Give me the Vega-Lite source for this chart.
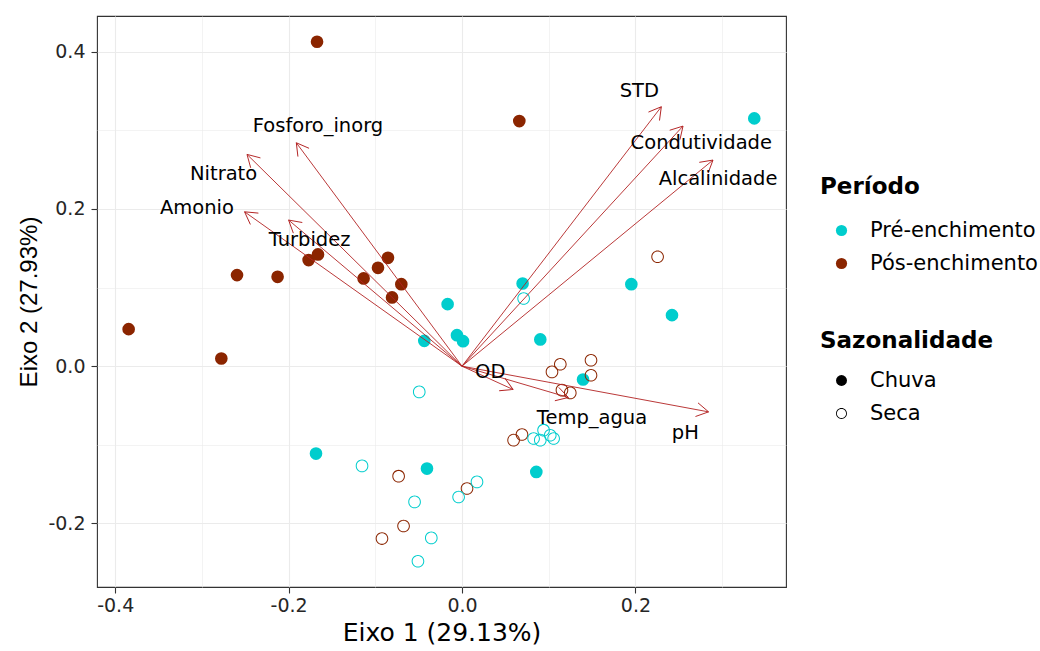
{
  "$schema": "https://vega.github.io/schema/vega-lite/v6.json",
  "width": 689,
  "height": 571,
  "autosize": {"type": "none"},
  "padding": {"left": 97, "top": 16, "right": 254, "bottom": 64},
  "background": "white",
  "config": {
    "view": {"stroke": "#333333", "strokeWidth": 1.1},
    "font": "DejaVu Sans",
    "axis": {
      "domain": false,
      "gridColor": "#EBEBEB",
      "tickColor": "#333333",
      "tickSize": 6,
      "tickWidth": 1.1,
      "labelFont": "DejaVu Sans",
      "labelFontSize": 19,
      "labelColor": "#262626",
      "labelFlush": false,
      "labelOverlap": false,
      "titleFont": "DejaVu Sans",
      "titleFontSize": 25,
      "titleFontWeight": "normal",
      "titleColor": "black"
    }
  },
  "datasets": {
    "pts": [
      {"x": -0.1672, "y": 0.4126, "Periodo": "Pós-enchimento", "Sazonalidade": "Chuva"},
      {"x": 0.0661, "y": 0.3117, "Periodo": "Pós-enchimento", "Sazonalidade": "Chuva"},
      {"x": -0.3845, "y": 0.0471, "Periodo": "Pós-enchimento", "Sazonalidade": "Chuva"},
      {"x": -0.2776, "y": 0.0098, "Periodo": "Pós-enchimento", "Sazonalidade": "Chuva"},
      {"x": -0.2595, "y": 0.1158, "Periodo": "Pós-enchimento", "Sazonalidade": "Chuva"},
      {"x": -0.2127, "y": 0.1136, "Periodo": "Pós-enchimento", "Sazonalidade": "Chuva"},
      {"x": -0.1769, "y": 0.1349, "Periodo": "Pós-enchimento", "Sazonalidade": "Chuva"},
      {"x": -0.1661, "y": 0.1421, "Periodo": "Pós-enchimento", "Sazonalidade": "Chuva"},
      {"x": -0.1135, "y": 0.1116, "Periodo": "Pós-enchimento", "Sazonalidade": "Chuva"},
      {"x": -0.0969, "y": 0.1251, "Periodo": "Pós-enchimento", "Sazonalidade": "Chuva"},
      {"x": -0.0854, "y": 0.1378, "Periodo": "Pós-enchimento", "Sazonalidade": "Chuva"},
      {"x": -0.0700, "y": 0.1043, "Periodo": "Pós-enchimento", "Sazonalidade": "Chuva"},
      {"x": -0.0807, "y": 0.0874, "Periodo": "Pós-enchimento", "Sazonalidade": "Chuva"},
      {"x": 0.3371, "y": 0.3151, "Periodo": "Pré-enchimento", "Sazonalidade": "Chuva"},
      {"x": 0.1953, "y": 0.1043, "Periodo": "Pré-enchimento", "Sazonalidade": "Chuva"},
      {"x": 0.0699, "y": 0.1052, "Periodo": "Pré-enchimento", "Sazonalidade": "Chuva"},
      {"x": 0.2422, "y": 0.0649, "Periodo": "Pré-enchimento", "Sazonalidade": "Chuva"},
      {"x": -0.0166, "y": 0.0789, "Periodo": "Pré-enchimento", "Sazonalidade": "Chuva"},
      {"x": -0.0058, "y": 0.0394, "Periodo": "Pré-enchimento", "Sazonalidade": "Chuva"},
      {"x": 0.0012, "y": 0.0318, "Periodo": "Pré-enchimento", "Sazonalidade": "Chuva"},
      {"x": -0.0435, "y": 0.0322, "Periodo": "Pré-enchimento", "Sazonalidade": "Chuva"},
      {"x": 0.0903, "y": 0.0340, "Periodo": "Pré-enchimento", "Sazonalidade": "Chuva"},
      {"x": 0.1396, "y": -0.0169, "Periodo": "Pré-enchimento", "Sazonalidade": "Chuva"},
      {"x": -0.1684, "y": -0.1111, "Periodo": "Pré-enchimento", "Sazonalidade": "Chuva"},
      {"x": -0.0404, "y": -0.1302, "Periodo": "Pré-enchimento", "Sazonalidade": "Chuva"},
      {"x": 0.0857, "y": -0.1345, "Periodo": "Pré-enchimento", "Sazonalidade": "Chuva"},
      {"x": 0.2256, "y": 0.1391, "Periodo": "Pós-enchimento", "Sazonalidade": "Seca"},
      {"x": 0.1038, "y": -0.0073, "Periodo": "Pós-enchimento", "Sazonalidade": "Seca"},
      {"x": 0.1134, "y": 0.0025, "Periodo": "Pós-enchimento", "Sazonalidade": "Seca"},
      {"x": 0.1488, "y": 0.0076, "Periodo": "Pós-enchimento", "Sazonalidade": "Seca"},
      {"x": 0.1488, "y": -0.0115, "Periodo": "Pós-enchimento", "Sazonalidade": "Seca"},
      {"x": 0.1153, "y": -0.0305, "Periodo": "Pós-enchimento", "Sazonalidade": "Seca"},
      {"x": 0.1249, "y": -0.0340, "Periodo": "Pós-enchimento", "Sazonalidade": "Seca"},
      {"x": 0.0595, "y": -0.0941, "Periodo": "Pós-enchimento", "Sazonalidade": "Seca"},
      {"x": 0.0692, "y": -0.0869, "Periodo": "Pós-enchimento", "Sazonalidade": "Seca"},
      {"x": -0.0731, "y": -0.1399, "Periodo": "Pós-enchimento", "Sazonalidade": "Seca"},
      {"x": -0.0674, "y": -0.2032, "Periodo": "Pós-enchimento", "Sazonalidade": "Seca"},
      {"x": -0.0923, "y": -0.2192, "Periodo": "Pós-enchimento", "Sazonalidade": "Seca"},
      {"x": 0.0058, "y": -0.1556, "Periodo": "Pós-enchimento", "Sazonalidade": "Seca"},
      {"x": 0.0711, "y": 0.0861, "Periodo": "Pré-enchimento", "Sazonalidade": "Seca"},
      {"x": -0.0493, "y": -0.0327, "Periodo": "Pré-enchimento", "Sazonalidade": "Seca"},
      {"x": -0.1153, "y": -0.1268, "Periodo": "Pré-enchimento", "Sazonalidade": "Seca"},
      {"x": -0.0547, "y": -0.1726, "Periodo": "Pré-enchimento", "Sazonalidade": "Seca"},
      {"x": -0.0354, "y": -0.2184, "Periodo": "Pré-enchimento", "Sazonalidade": "Seca"},
      {"x": -0.0508, "y": -0.2481, "Periodo": "Pré-enchimento", "Sazonalidade": "Seca"},
      {"x": -0.0039, "y": -0.1663, "Periodo": "Pré-enchimento", "Sazonalidade": "Seca"},
      {"x": 0.0173, "y": -0.1472, "Periodo": "Pré-enchimento", "Sazonalidade": "Seca"},
      {"x": 0.0826, "y": -0.0920, "Periodo": "Pré-enchimento", "Sazonalidade": "Seca"},
      {"x": 0.0903, "y": -0.0941, "Periodo": "Pré-enchimento", "Sazonalidade": "Seca"},
      {"x": 0.0941, "y": -0.0814, "Periodo": "Pré-enchimento", "Sazonalidade": "Seca"},
      {"x": 0.1018, "y": -0.0878, "Periodo": "Pré-enchimento", "Sazonalidade": "Seca"},
      {"x": 0.1057, "y": -0.0920, "Periodo": "Pré-enchimento", "Sazonalidade": "Seca"}
    ],
    "vars": [
      {"name": "STD", "x": 0.2299, "y": 0.3299, "lx": 0.2045, "ly": 0.3503},
      {"name": "Condutividade", "x": 0.2549, "y": 0.3053, "lx": 0.2760, "ly": 0.2833},
      {"name": "Alcalinidade", "x": 0.2895, "y": 0.2621, "lx": 0.2953, "ly": 0.2375},
      {"name": "Fosforo_inorg", "x": -0.1911, "y": 0.2841, "lx": -0.1661, "ly": 0.3053},
      {"name": "Nitrato", "x": -0.2480, "y": 0.2693, "lx": -0.2750, "ly": 0.2439},
      {"name": "Amonio", "x": -0.2508, "y": 0.1963, "lx": -0.3057, "ly": 0.2006},
      {"name": "Turbidez", "x": -0.2000, "y": 0.1858, "lx": -0.1758, "ly": 0.1603},
      {"name": "OD", "x": 0.0588, "y": -0.0296, "lx": 0.0326, "ly": -0.0073},
      {"name": "Temp_agua", "x": 0.1227, "y": -0.0398, "lx": 0.1499, "ly": -0.0653},
      {"name": "pH", "x": 0.2844, "y": -0.0581, "lx": 0.2576, "ly": -0.0849}
    ]
  },
  "layer": [
    {
      "data": {"name": "pts"},
      "mark": {"type": "point", "filled": true, "size": 160, "strokeWidth": 0, "opacity": 1},
      "encoding": {
        "x": {
          "field": "x", "type": "quantitative",
          "scale": {"domain": [-0.421, 0.3737], "nice": false, "zero": false},
          "axis": {
            "title": "Eixo 1 (29.13%)",
            "values": [-0.4, -0.3, -0.2, -0.1, 0, 0.1, 0.2, 0.3],
            "labelExpr": "round(datum.value*10) % 2 != 0 ? '' : (datum.value < -0.001 ? '-' : '') + format(abs(datum.value), '.1f')",
            "tickOpacity": {"condition": {"test": "round(datum.value*10) % 2 != 0", "value": 0}, "value": 1},
            "gridWidth": {"condition": {"test": "round(datum.value*10) % 2 != 0", "value": 0.6}, "value": 1.1},
            "labelPadding": 3,
            "titlePadding": 5
          }
        },
        "y": {
          "field": "y", "type": "quantitative",
          "scale": {"domain": [-0.2808, 0.4453], "nice": false, "zero": false},
          "axis": {
            "title": "Eixo 2 (27.93%)",
            "titleFont": "Liberation Sans",
            "titleFontSize": 24,
            "values": [-0.2, -0.1, 0, 0.1, 0.2, 0.3, 0.4],
            "labelExpr": "round(datum.value*10) % 2 != 0 ? '' : (datum.value < -0.001 ? '-' : '') + format(abs(datum.value), '.1f')",
            "tickOpacity": {"condition": {"test": "round(datum.value*10) % 2 != 0", "value": 0}, "value": 1},
            "gridWidth": {"condition": {"test": "round(datum.value*10) % 2 != 0", "value": 0.6}, "value": 1.1},
            "labelPadding": 6,
            "titlePadding": 6
          }
        },
        "color": {
          "field": "Periodo", "type": "nominal",
          "scale": {"domain": ["Pré-enchimento", "Pós-enchimento"], "range": ["#00CDCD", "#8B2500"]},
          "legend": {
            "title": "Período",
            "orient": "none",
            "legendX": 723,
            "legendY": 160,
            "padding": 0,
            "titleFont": "DejaVu Sans",
            "titleFontSize": 23,
            "titleFontWeight": "bold",
            "titleColor": "black",
            "titlePadding": 21,
            "labelFont": "DejaVu Sans",
            "labelFontSize": 21,
            "labelColor": "black",
            "labelLimit": 0,
            "labelOffset": 18,
            "symbolOffset": 11,
            "symbolType": "circle",
            "symbolSize": 125,
            "symbolStrokeWidth": 0,
            "rowPadding": 11
          }
        },
        "shape": {
          "field": "Sazonalidade", "type": "nominal",
          "scale": {
            "domain": ["Chuva", "Seca"],
            "range": ["circle", "M1,0A1,1,0,1,1,-1,0A1,1,0,1,1,1,0ZM0.84,0A0.84,0.84,0,1,0,-0.84,0A0.84,0.84,0,1,0,0.84,0Z"]
          },
          "legend": {
            "title": "Sazonalidade",
            "orient": "none",
            "legendX": 723,
            "legendY": 314,
            "padding": 0,
            "titleFont": "DejaVu Sans",
            "titleFontSize": 23,
            "titleFontWeight": "bold",
            "titleColor": "black",
            "titlePadding": 17,
            "labelFont": "DejaVu Sans",
            "labelFontSize": 21,
            "labelColor": "black",
            "labelLimit": 0,
            "labelOffset": 18,
            "symbolOffset": 11,
            "symbolSize": 120,
            "symbolFillColor": "black",
            "symbolStrokeWidth": 0,
            "rowPadding": 11
          }
        }
      }
    },
    {
      "data": {"name": "vars"},
      "mark": {"type": "rule", "color": "#B22222", "strokeWidth": 0.9},
      "encoding": {
        "x": {"field": "x", "type": "quantitative"},
        "y": {"field": "y", "type": "quantitative"},
        "x2": {"datum": 0},
        "y2": {"datum": 0}
      }
    },
    {
      "data": {"name": "vars"},
      "transform": [{"calculate": "atan2(-datum.y*786, datum.x*867)*180/PI", "as": "ang"}],
      "mark": {"type": "point", "shape": "M-1,-0.577L0,0L-1,0.577", "filled": false, "size": 580, "color": "#B22222", "strokeWidth": 0.9, "opacity": 1},
      "encoding": {
        "x": {"field": "x", "type": "quantitative"},
        "y": {"field": "y", "type": "quantitative"},
        "angle": {"field": "ang", "type": "quantitative", "scale": null}
      }
    },
    {
      "data": {"name": "vars"},
      "mark": {"type": "text", "font": "DejaVu Sans", "fontSize": 19.5, "color": "black", "align": "center", "baseline": "middle"},
      "encoding": {
        "x": {"field": "lx", "type": "quantitative"},
        "y": {"field": "ly", "type": "quantitative"},
        "text": {"field": "name"}
      }
    }
  ]
}
